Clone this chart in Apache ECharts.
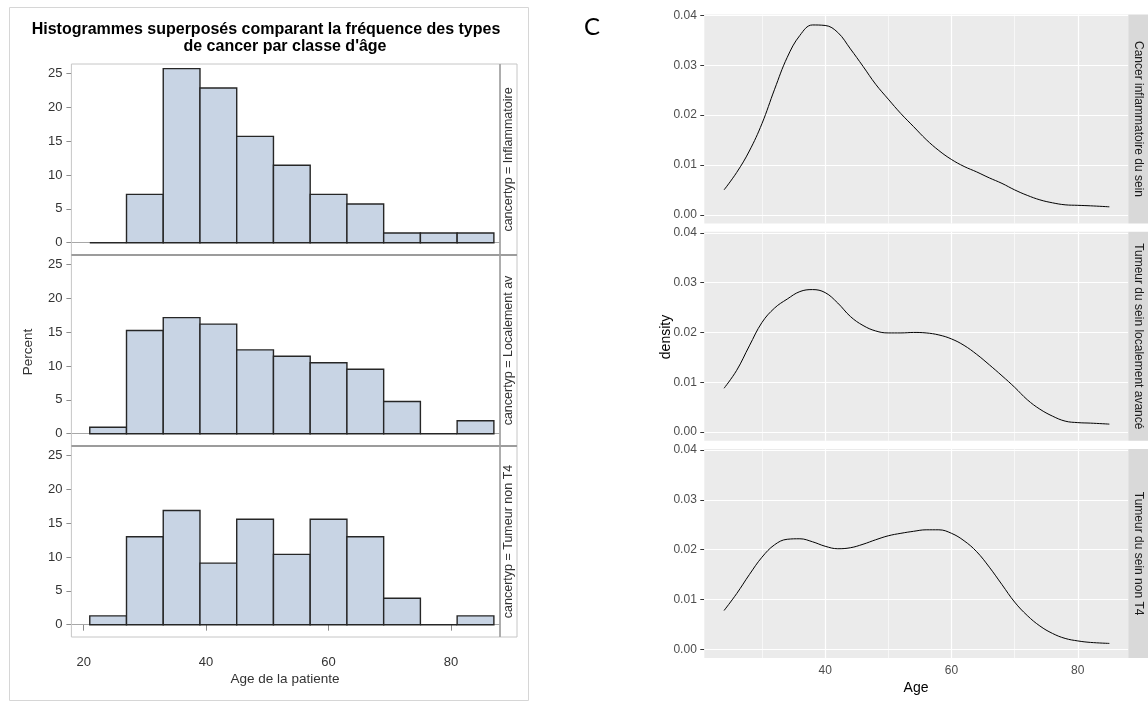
<!DOCTYPE html>
<html>
<head>
<meta charset="utf-8">
<script src="https://cdn.jsdelivr.net/npm/echarts@6/dist/echarts.min.js"></script>
<style>
  html, body { margin: 0; padding: 0; background: #fff; }
  #chart { width: 1148px; height: 702px; }
</style>
</head>
<body>
<div id="chart"></div>
<script>
// histogram bins (age classes, years)
const binStart = [21, 27, 33, 39, 45, 51, 57, 63, 69, 75, 81];
const binEnd   = [27, 33, 39, 45, 51, 57, 63, 69, 75, 81, 87];

// percent per bin, one array per cancer type
const pctInflammatoire = [0, 7.14, 25.71, 22.86, 15.71, 11.43, 7.14, 5.71, 1.43, 1.43, 1.43];
const pctLocalement    = [0.95, 15.24, 17.14, 16.19, 12.38, 11.43, 10.48, 9.52, 4.76, 0, 1.90];
const pctNonT4         = [1.30, 12.99, 16.88, 9.09, 15.58, 10.39, 15.58, 12.99, 3.90, 0, 1.30];

const histLabels = ['cancertyp = Inflammatoire', 'cancertyp = Localement av', 'cancertyp = Tumeur non T4'];
const histTicksX = [20, 40, 60, 80];
const histTicksY = [0, 5, 10, 15, 20, 25];

// density curves (right side)
const densityAges = [24, 26, 28, 30, 32, 34, 36, 38, 40, 42, 44, 46, 48, 50, 52, 54, 56, 58, 60, 62, 64, 66, 68, 70, 72, 74, 76, 78, 80, 82, 85];
const densInflammatoire = [0.0050, 0.0085, 0.0128, 0.0183, 0.0252, 0.0316, 0.0360, 0.0381, 0.0380, 0.0366, 0.0333, 0.0298, 0.0262, 0.0232, 0.0203, 0.0177, 0.0151, 0.0129, 0.0111, 0.0097, 0.0086, 0.0074, 0.0063, 0.0050, 0.0039, 0.0030, 0.0024, 0.0020, 0.0019, 0.0018, 0.0016];
const densLocalement    = [0.0088, 0.0124, 0.0173, 0.0220, 0.0249, 0.0267, 0.0282, 0.0286, 0.0280, 0.0259, 0.0232, 0.0214, 0.0203, 0.0199, 0.0199, 0.0200, 0.0199, 0.0195, 0.0187, 0.0174, 0.0156, 0.0135, 0.0113, 0.0090, 0.0065, 0.0046, 0.0032, 0.0022, 0.0019, 0.0018, 0.0016];
const densNonT4         = [0.0078, 0.0112, 0.0150, 0.0185, 0.0210, 0.0221, 0.0222, 0.0216, 0.0207, 0.0202, 0.0204, 0.0211, 0.0220, 0.0228, 0.0233, 0.0237, 0.0240, 0.0240, 0.0233, 0.0218, 0.0196, 0.0165, 0.0130, 0.0095, 0.0068, 0.0047, 0.0032, 0.0022, 0.0017, 0.0014, 0.0012];

const densLabels = ['Cancer inflammatoire du sein', 'Tumeur du sein localement avancé', 'Tumeur du sein non T4'];
const densTicksX = [40, 60, 80];
const densTicksY = [0, 0.01, 0.02, 0.03, 0.04];
const densMinorX = [30, 50, 70];
const densMinorY = [0.005, 0.015, 0.025, 0.035];

const chart = echarts.init(document.getElementById('chart'));

// layout
const L = { x: 71.4, w: 428.6, h: 191, tops: [64, 255, 446] };
const R = { x: 704.3, w: 424, h: 209, tops: [14.5, 231.8, 449.1] };
const sans = '"Liberation Sans", Arial, sans-serif';

const histData = [pctInflammatoire, pctLocalement, pctNonT4];
const densData = [densInflammatoire, densLocalement, densNonT4];

const grids = [], xAxes = [], yAxes = [], series = [], graphics = [];

function txt(x, y, text, font, color, rot, align) {
  return {
    type: 'text', x: x, y: y, rotation: rot || 0, silent: true, z: 10,
    style: { text: text, font: font, fill: color, align: align || 'center', verticalAlign: 'middle',
             textAlign: align || 'center', textVerticalAlign: 'middle' }
  };
}

// ---- left : SAS histograms ----
L.tops.forEach(function (top, i) {
  const last = i === 2;
  grids.push({ left: L.x, top: top, width: L.w, height: L.h, show: false });
  xAxes.push({
    type: 'value', gridIndex: i, min: 18, max: 88,
    splitLine: { show: false },
    axisLine: { show: false },
    axisTick: { show: last, customValues: histTicksX, length: 6, lineStyle: { color: '#8c8c8c' } },
    axisLabel: { show: last, customValues: histTicksX, margin: 19, color: '#333', fontSize: 13, fontFamily: sans }
  });
  yAxes.push({
    type: 'value', gridIndex: i, min: -1.82, max: 26.4,
    splitLine: { show: false },
    axisLine: { show: false },
    axisTick: { show: true, customValues: histTicksY, length: 5, lineStyle: { color: '#8c8c8c' } },
    axisLabel: { customValues: histTicksY, margin: 9, color: '#333', fontSize: 13, fontFamily: sans }
  });
  series.push({
    type: 'line', xAxisIndex: i, yAxisIndex: i, data: [], z: 1, silent: true,
    markLine: {
      silent: true, symbol: 'none', label: { show: false }, animation: false, z: 1,
      lineStyle: { color: '#a8a8a8', width: 1, type: 'solid' },
      data: [{ yAxis: 0 }]
    }
  });
  series.push({
    type: 'custom', xAxisIndex: i, yAxisIndex: i, z: 3,
    data: histData[i].map(function (v, k) { return [binStart[k], binEnd[k], v]; }),
    encode: { x: [0, 1], y: 2 },
    renderItem: function (params, api) {
      const p0 = api.coord([api.value(0), api.value(2)]);
      const p1 = api.coord([api.value(1), 0]);
      return {
        type: 'rect',
        shape: { x: p0[0], y: p0[1], width: p1[0] - p0[0], height: p1[1] - p0[1] },
        style: { fill: '#c8d4e4', stroke: '#262626', lineWidth: 1.4 }
      };
    }
  });
  // cell frames and strip
  graphics.push({ type: 'rect', silent: true, z: 5, shape: { x: L.x, y: top, width: L.w, height: L.h },
    style: { fill: 'none', stroke: '#c6c6c6', lineWidth: 1 } });
  graphics.push({ type: 'rect', silent: true, z: 5, shape: { x: L.x + L.w, y: top, width: 17, height: L.h },
    style: { fill: 'none', stroke: '#c6c6c6', lineWidth: 1 } });
  graphics.push(txt(L.x + L.w + 9, top + L.h / 2, histLabels[i], '12.5px ' + sans, '#333', Math.PI / 2));
});
// separators between cells and right plot border
[255, 446].forEach(function (y) {
  graphics.push({ type: 'line', silent: true, z: 6, shape: { x1: L.x, y1: y, x2: L.x + L.w + 17, y2: y },
    style: { stroke: '#9c9c9c', lineWidth: 2 } });
});
graphics.push({ type: 'line', silent: true, z: 6, shape: { x1: L.x + L.w, y1: 64, x2: L.x + L.w, y2: 637 },
  style: { stroke: '#a0a0a0', lineWidth: 1.5 } });
graphics.push({ type: 'rect', silent: true, z: 0, shape: { x: 9.5, y: 7.5, width: 519, height: 693 },
  style: { fill: 'none', stroke: '#d6d6d6', lineWidth: 1 } });
graphics.push(txt(266, 29.5, 'Histogrammes superposés comparant la fréquence des types', 'bold 16px ' + sans, '#000'));
graphics.push(txt(285, 47, "de cancer par classe d'âge", 'bold 16px ' + sans, '#000'));
graphics.push(txt(28.6, 352, 'Percent', '13.5px ' + sans, '#333', Math.PI / 2));
graphics.push(txt(285, 679, 'Age de la patiente', '13.5px ' + sans, '#333'));

// ---- right : ggplot densities ----
R.tops.forEach(function (top, j) {
  const i = j + 3;
  const last = j === 2;
  grids.push({ left: R.x, top: top, width: R.w, height: R.h, show: true, backgroundColor: '#ebebeb', borderWidth: 0 });
  xAxes.push({
    type: 'value', gridIndex: i, min: 20.87, max: 88.0,
    splitLine: { show: false },
    axisLine: { show: false },
    axisTick: { show: last, customValues: densTicksX, length: 4, lineStyle: { color: '#333' } },
    axisLabel: { show: last, customValues: densTicksX, margin: 7, color: '#4d4d4d', fontSize: 12, fontFamily: sans }
  });
  yAxes.push({
    type: 'value', gridIndex: i, min: -0.00175, max: 0.0402,
    splitLine: { show: false },
    axisLine: { show: false },
    axisTick: { show: true, customValues: densTicksY, length: 4, lineStyle: { color: '#333' } },
    axisLabel: { customValues: densTicksY, margin: 7.5, color: '#4d4d4d', fontSize: 12, fontFamily: sans,
      formatter: function (v) { return v.toFixed(2); } }
  });
  const gridLines = [];
  densMinorY.forEach(function (v) { gridLines.push({ yAxis: v, lineStyle: { width: 0.6 } }); });
  densMinorX.forEach(function (v) { gridLines.push({ xAxis: v, lineStyle: { width: 0.6 } }); });
  densTicksY.forEach(function (v) { gridLines.push({ yAxis: v, lineStyle: { width: 1.2 } }); });
  densTicksX.forEach(function (v) { gridLines.push({ xAxis: v, lineStyle: { width: 1.2 } }); });
  series.push({
    type: 'line', xAxisIndex: i, yAxisIndex: i, data: [], z: 1, silent: true,
    markLine: {
      silent: true, symbol: 'none', label: { show: false }, animation: false, z: 1,
      lineStyle: { color: '#ffffff', type: 'solid' },
      data: gridLines
    }
  });
  series.push({
    type: 'line', xAxisIndex: i, yAxisIndex: i, z: 4,
    data: densityAges.map(function (a, k) { return [a, densData[j][k]]; }),
    showSymbol: false, smooth: 0.4,
    lineStyle: { color: '#000', width: 1 }
  });
  graphics.push({ type: 'rect', silent: true, z: 5, shape: { x: R.x + R.w, y: top, width: 24, height: R.h },
    style: { fill: '#d9d9d9' } });
  graphics.push(txt(R.x + R.w + 10.5, top + R.h / 2, densLabels[j], '12px ' + sans, '#1a1a1a', -Math.PI / 2));
});
graphics.push(txt(666, 337, 'density', '14px ' + sans, '#000', Math.PI / 2));
graphics.push(txt(916, 688, 'Age', '14px ' + sans, '#000'));
graphics.push(txt(592, 27, 'C', '24px Lato, "Open Sans", sans-serif', '#000'));

chart.setOption({
  animation: false,
  backgroundColor: '#ffffff',
  grid: grids,
  xAxis: xAxes,
  yAxis: yAxes,
  series: series,
  graphic: { elements: graphics }
});
</script>
</body>
</html>
